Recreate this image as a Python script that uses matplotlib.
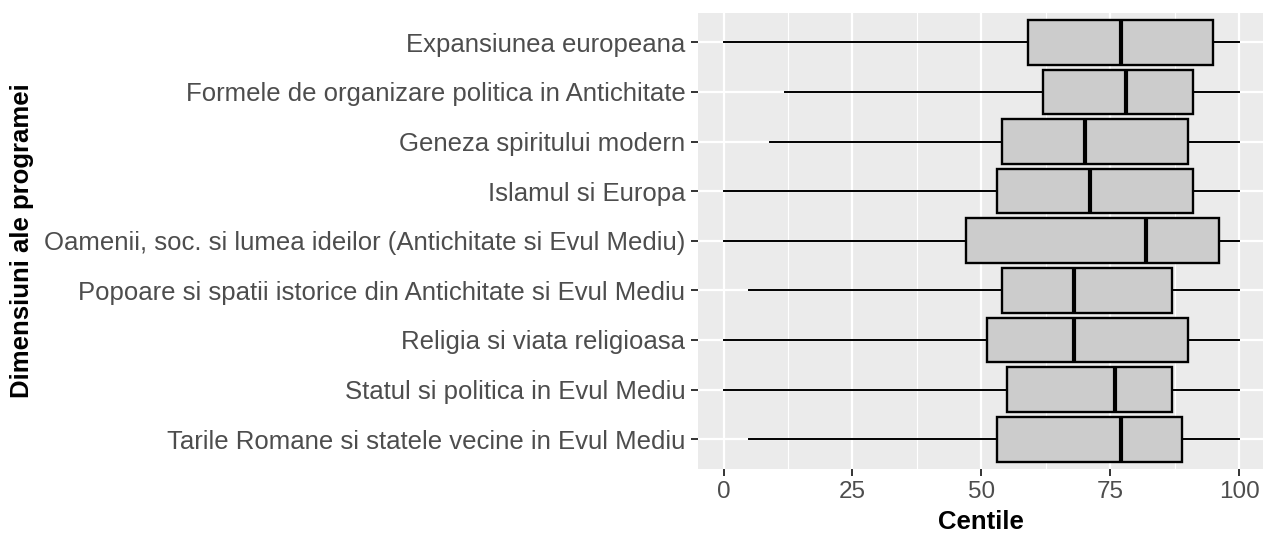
import matplotlib
matplotlib.use("Agg")
import matplotlib.pyplot as plt
from matplotlib.ticker import MultipleLocator

categories = [
    "Expansiunea europeana",
    "Formele de organizare politica in Antichitate",
    "Geneza spiritului modern",
    "Islamul si Europa",
    "Oamenii, soc. si lumea ideilor (Antichitate si Evul Mediu)",
    "Popoare si spatii istorice din Antichitate si Evul Mediu",
    "Religia si viata religioasa",
    "Statul si politica in Evul Mediu",
    "Tarile Romane si statele vecine in Evul Mediu",
]
whisker_low = [0, 12, 9, 0, 0, 5, 0, 0, 5]
q1 = [59, 62, 54, 53, 47, 54, 51, 55, 53]
median = [77, 78, 70, 71, 82, 68, 68, 76, 77]
q3 = [95, 91, 90, 91, 96, 87, 90, 87, 89]
whisker_high = [100, 100, 100, 100, 100, 100, 100, 100, 100]
x_ticks = [0, 25, 50, 75, 100]

plt.rcParams['font.family'] = ['Liberation Sans', 'DejaVu Sans']

fig = plt.figure(figsize=(12.63, 5.34), dpi=100)
ax = fig.add_axes([697.8 / 1263, 65 / 534, (1265 - 697.8) / 1263, (469 - 12.5) / 534])
ax.set_facecolor('#EBEBEB')

n = len(categories)
positions = list(range(n, 0, -1))
stats = []
for i, c in enumerate(categories):
    stats.append(dict(label=c, whislo=whisker_low[i], q1=q1[i], med=median[i],
                      q3=q3[i], whishi=whisker_high[i], fliers=[]))

ax.bxp(stats, positions=positions, vert=False, widths=0.9, patch_artist=True,
       showcaps=False,
       boxprops=dict(facecolor='#CCCCCC', edgecolor='black', linewidth=1.7),
       medianprops=dict(color='black', linewidth=3.0, solid_capstyle='butt'),
       whiskerprops=dict(color='black', linewidth=1.4),
       zorder=3)

ax.set_xlim(-5, 105)
ax.set_ylim(0.4, n + 0.6)
ax.set_xticks(x_ticks)
ax.set_xticklabels([str(t) for t in x_ticks])
ax.xaxis.set_minor_locator(MultipleLocator(12.5))
ax.set_yticks(positions)
ax.set_yticklabels(categories)

ax.grid(which='major', color='white', linewidth=1.6, zorder=0)
ax.grid(which='minor', axis='x', color='white', linewidth=0.8, zorder=0)
ax.set_axisbelow(True)
for s in ax.spines.values():
    s.set_visible(False)

ax.tick_params(axis='both', which='major', length=5, width=1.4, color='#333333',
               labelcolor='#4D4D4D', pad=4)
ax.tick_params(axis='y', labelsize=18.5)
ax.tick_params(axis='x', labelsize=17.5)
ax.tick_params(axis='x', which='minor', length=0)

ax.set_xlabel('Centile', fontsize=18.5, fontweight='bold', color='black', labelpad=5)
ax.set_ylabel('Dimensiuni ale programei', fontsize=18.5, fontweight='bold', color='black',
              va='center')
ax.yaxis.set_label_coords(-(697.8 - 22) / (1265 - 697.8), 0.5)

fig.savefig('out.png', dpi=100)
